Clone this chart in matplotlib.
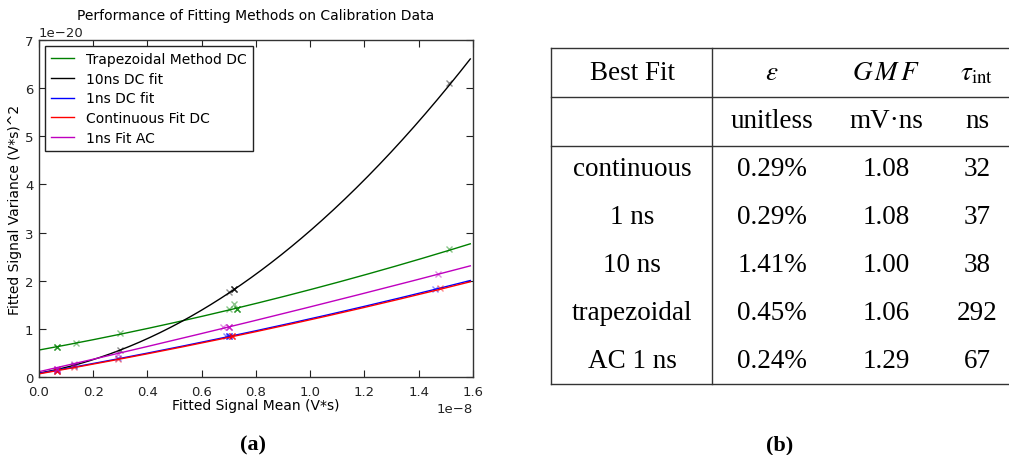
import numpy as np
import matplotlib
matplotlib.use("Agg")
import matplotlib.pyplot as plt
from matplotlib.lines import Line2D

# ---------------- data ----------------
series_labels = ["Trapezoidal Method DC", "10ns DC fit", "1ns DC fit",
                 "Continuous Fit DC", "1ns Fit AC"]
series_colors = ["g", "k", "b", "r", "m"]

# fit polynomial coefficients (highest power first), x in 1e-8 V*s, y in 1e-20 (V*s)^2
fit_trap = [0.225, 1.03, 0.56]
fit_10ns = [1.94, 1.02, 0.08]
fit_1ns = [0.134, 1.00, 0.075]
fit_cont = [0.134, 0.99, 0.065]
fit_ac = [0.061, 1.286, 0.11]
fits = [fit_trap, fit_10ns, fit_1ns, fit_cont, fit_ac]
fit_xmax = 1.59

# measured points (x in 1e-8, y in 1e-20)
pts_trap_x = [0.065, 0.065, 0.065, 0.135, 0.30, 0.70, 0.72, 0.73, 0.73, 0.73, 1.51]
pts_trap_y = [0.62, 0.62, 0.62, 0.71, 0.91, 1.42, 1.52, 1.42, 1.42, 1.42, 2.65]
pts_10ns_x = [0.065, 0.13, 0.30, 0.70, 0.72, 0.72, 0.72, 1.51]
pts_10ns_y = [0.15, 0.25, 0.57, 1.76, 1.82, 1.82, 1.82, 6.10]
pts_1ns_x = [0.065, 0.13, 0.29, 0.69, 0.70, 0.70, 0.70, 1.46]
pts_1ns_y = [0.13, 0.22, 0.39, 0.85, 0.86, 0.86, 0.86, 1.83]
pts_cont_x = [0.065, 0.065, 0.065, 0.13, 0.29, 0.71, 0.71, 0.71, 1.48]
pts_cont_y = [0.12, 0.12, 0.12, 0.20, 0.38, 0.85, 0.85, 0.85, 1.84]
pts_ac_x = [0.065, 0.065, 0.065, 0.13, 0.29, 0.68, 0.70, 0.70, 0.70, 1.47]
pts_ac_y = [0.17, 0.17, 0.17, 0.27, 0.47, 1.03, 1.04, 1.04, 1.04, 2.13]
pts_x = [pts_trap_x, pts_10ns_x, pts_1ns_x, pts_cont_x, pts_ac_x]
pts_y = [pts_trap_y, pts_10ns_y, pts_1ns_y, pts_cont_y, pts_ac_y]

x_scale = 1e-8
y_scale = 1e-20

# table
table_header = ["Best Fit", r"$\varepsilon$", r"$G\,M\,F$", r"$\tau_{\rm int}$"]
table_units = ["", "unitless", "mV·ns", "ns"]
table_methods = ["continuous", "1 ns", "10 ns", "trapezoidal", "AC 1 ns"]
table_eps = ["0.29%", "0.29%", "1.41%", "0.45%", "0.24%"]
table_gmf = ["1.08", "1.08", "1.00", "1.06", "1.29"]
table_tau = ["32", "37", "38", "292", "67"]

# ---------------- figure ----------------
W, H = 1009, 456
fig = plt.figure(figsize=(W / 100, H / 100), dpi=100)
plt.rcParams["mathtext.fontset"] = "stix"

ax = fig.add_axes([39 / W, 1 - 378 / H, (473 - 39) / W, (378 - 41) / H])

for coeffs, xs, ys, col, lab in zip(fits, pts_x, pts_y, series_colors, series_labels):
    xx = np.linspace(0, fit_xmax, 300)
    ax.plot(xx * x_scale, np.polyval(coeffs, xx) * y_scale, color=col, lw=1.0, label=lab)
    ax.plot(np.array(xs) * x_scale, np.array(ys) * y_scale, ls="none", marker="x",
            color=col, ms=5, mew=1.0, alpha=0.45)

ax.set_xlim(0, 1.6e-8)
ax.set_ylim(0, 7e-20)
ax.set_xticks(np.arange(0, 1.61, 0.2) * 1e-8)
ax.set_yticks(np.arange(0, 8, 1) * 1e-20)
ax.tick_params(direction="in", top=True, right=True, labelsize=9.5, length=5,
               colors="#222222")
ax.tick_params(axis="x", pad=6)
ax.tick_params(axis="y", pad=4)
for s in ax.spines.values():
    s.set_color("#333333")
    s.set_linewidth(1.0)
ax.xaxis.get_offset_text().set_fontsize(9.5)
ax.yaxis.get_offset_text().set_fontsize(9.5)
ax.set_xlabel("Fitted Signal Mean (V*s)", fontsize=10, labelpad=0)
ax.set_ylabel("Fitted Signal Variance (V*s)^2", fontsize=10, labelpad=2)
ax.set_title("Performance of Fitting Methods on Calibration Data", fontsize=10, pad=15)

handles = [Line2D([0], [0], color=c, lw=1.0) for c in series_colors]
leg = ax.legend(handles, series_labels, loc="upper left", fontsize=10, fancybox=False,
                framealpha=1, edgecolor="#222222", borderaxespad=0.4,
                handlelength=1.7, labelspacing=0.42, borderpad=0.45)
leg.get_frame().set_linewidth(1.0)

fig.text(253 / W, 1 - 445 / H, "(a)", ha="center", va="center",
         fontsize=16, fontweight="bold", family="Liberation Serif")
fig.text(780 / W, 1 - 445 / H, "(b)", ha="center", va="center",
         fontsize=16, fontweight="bold", family="Liberation Serif")

# ---------------- table ----------------
def fx(px):
    return px / W

def fy(py):
    return 1 - py / H

lc = "#333333"
for yl in [49, 98, 147, 385]:
    fig.add_artist(Line2D([fx(551), fx(1009)], [fy(yl), fy(yl)], color=lc, lw=1.0))
for xl in [551, 712]:
    fig.add_artist(Line2D([fx(xl), fx(xl)], [fy(49), fy(385)], color=lc, lw=1.0))

col_x = [632, 772, 886, 977]
tfs = 19.5
tfam = "Liberation Serif"
for cx, t in zip(col_x, table_header):
    fig.text(fx(cx), fy(74), t, ha="center", va="center", fontsize=tfs, family=tfam)
for cx, t in zip(col_x, table_units):
    if t:
        fig.text(fx(cx), fy(122), t, ha="center", va="center", fontsize=tfs, family=tfam)
row_y = [170, 218, 266, 314, 362]
for i, ry in enumerate(row_y):
    for cx, t in zip(col_x, [table_methods[i], table_eps[i], table_gmf[i], table_tau[i]]):
        fig.text(fx(cx), fy(ry), t, ha="center", va="center", fontsize=tfs, family=tfam)

fig.savefig("out.png", dpi=100)
